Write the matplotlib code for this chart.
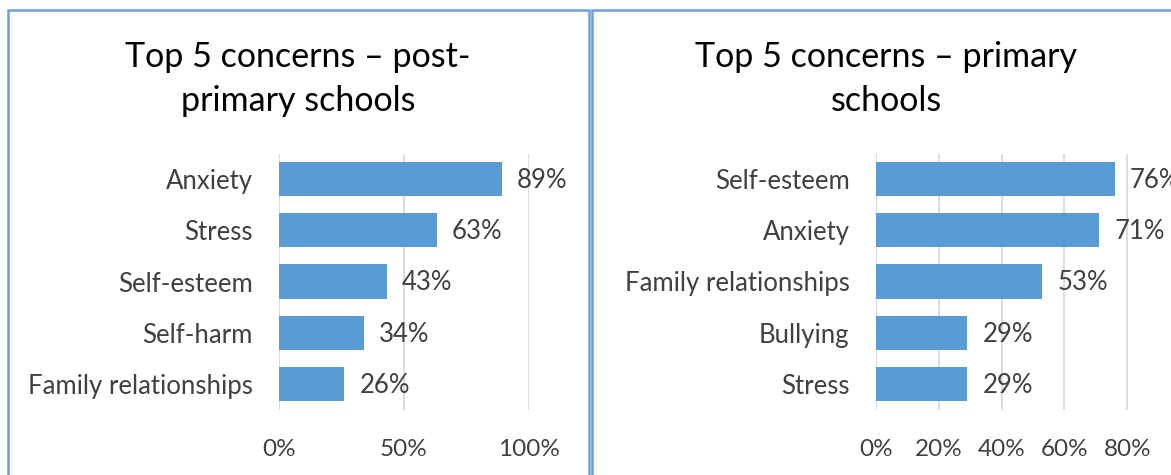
import numpy as np
import matplotlib.pyplot as plt
from matplotlib.patches import Rectangle
from matplotlib.ticker import PercentFormatter

plt.rcParams['font.family'] = ['Lato', 'DejaVu Sans']

# Data
post_labels = ['Anxiety', 'Stress', 'Self-esteem', 'Self-harm', 'Family relationships']
post_values = [0.89, 0.63, 0.43, 0.34, 0.26]
post_ticks = [0, 0.5, 1.0]

prim_labels = ['Self-esteem', 'Anxiety', 'Family relationships', 'Bullying', 'Stress']
prim_values = [0.76, 0.71, 0.53, 0.29, 0.29]
prim_ticks = [0, 0.2, 0.4, 0.6, 0.8]

titles = ['Top 5 concerns \u2013 post-\nprimary schools',
          'Top 5 concerns \u2013 primary\nschools']

BAR = '#5B9BD5'
GRID = '#D9D9D9'
TEXT = '#404040'
W, H = 1171, 475

fig = plt.figure(figsize=(W / 100, H / 100), dpi=100)

# panel frames (pixel coords -> figure fraction)
for x0, x1 in [(8, 589), (592, 1180)]:
    fig.patches.append(Rectangle((x0 / W, -0.05), (x1 - x0) / W, 1 - 10 / H + 0.05,
                                 transform=fig.transFigure, fill=False,
                                 edgecolor='#6FA0D8', linewidth=1.8))


def panel(rect, labels, values, ticks, title, title_x):
    ax = fig.add_axes(rect)
    y = np.arange(len(labels))[::-1]
    ax.barh(y, values, height=0.67, color=BAR, zorder=3)
    for yi, v in zip(y, values):
        ax.annotate(f'{v:.0%}', (v, yi), xytext=(11, -1), textcoords='offset points',
                    va='center', ha='left', fontsize=18.5, color=TEXT)
    ax.set_xlim(0, 1)
    ax.set_ylim(-0.5, len(labels) - 0.5)
    ax.set_yticks(y)
    ax.set_yticklabels(labels, fontsize=18.5, color=TEXT)
    ax.set_xticks(ticks)
    ax.xaxis.set_major_formatter(PercentFormatter(1.0, decimals=0))
    ax.tick_params(axis='x', labelsize=17.5, labelcolor=TEXT, length=0, pad=21)
    ax.tick_params(axis='y', length=0, pad=19)
    ax.grid(axis='x', color=GRID, linewidth=1.3, zorder=0)
    for s in ax.spines.values():
        s.set_visible(False)
    fig.text(title_x / W, 1 - 79 / H, title, ha='center', va='center',
             fontsize=24.5, color='black', linespacing=1.45)
    return ax


def rect_px(x0, x1, ytop, ybot):
    return [x0 / W, 1 - ybot / H, (x1 - x0) / W, (ybot - ytop) / H]


panel(rect_px(279, 529, 153.5, 409.5), post_labels, post_values, post_ticks, titles[0], 298)
panel(rect_px(876, 1190, 153.5, 409.5), prim_labels, prim_values, prim_ticks, titles[1], 886)

fig.savefig('out.png', dpi=100)
